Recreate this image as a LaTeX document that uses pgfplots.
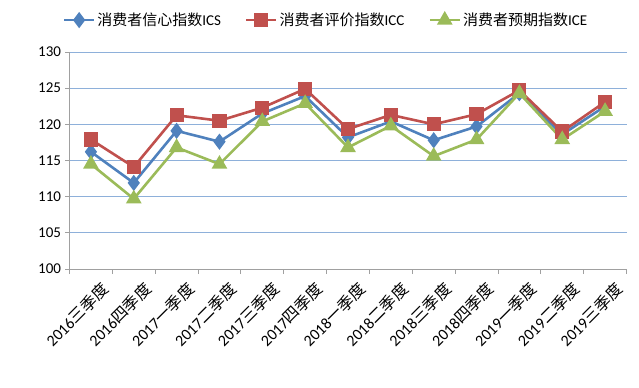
\documentclass[border=0pt]{standalone}
\usepackage{pgfplots}
\pgfplotsset{compat=1.18}
\usepackage{fontspec}
\setmainfont{Carlito}
\newfontfamily\cjk{Noto Sans CJK SC}
\definecolor{sblue}{HTML}{4F81BD}
\definecolor{sred}{HTML}{C0504D}
\definecolor{sgreen}{HTML}{9BBB59}
\definecolor{gridc}{HTML}{8EB0DA}
\definecolor{axc}{HTML}{A0A0A0}
\begin{document}
\begin{tikzpicture}
\useasboundingbox (0,0) rectangle (639bp,388bp);
\begin{axis}[
  at={(69.5bp,119bp)}, anchor=south west,
  scale only axis, width=557bp, height=217bp,
  xmin=-0.5, xmax=12.5, ymin=100, ymax=130,
  ytick={100,105,...,130},
  xtick={0,...,12},
  xticklabels={2016{\cjk 三季度},2016{\cjk 四季度},2017{\cjk 一季度},2017{\cjk 二季度},2017{\cjk 三季度},2017{\cjk 四季度},2018{\cjk 一季度},2018{\cjk 二季度},2018{\cjk 三季度},2018{\cjk 四季度},2019{\cjk 一季度},2019{\cjk 二季度},2019{\cjk 三季度}},
  minor xtick={-0.5,0.5,...,12.5},
  major x tick style={draw=none},
  tick align=outside,
  major tick length=4bp, minor tick length=5bp,
  tick style={axc, line width=0.8bp},
  ymajorgrids, grid style={gridc, line width=0.8bp},
  axis x line*=bottom, axis y line*=left,
  axis line style={axc, line width=0.8bp, -},
  /pgf/number format/assume math mode=true,
  yticklabel style={font=\fontsize{15bp}{17bp}\selectfont, xshift=-1bp},
  xticklabel style={font=\fontsize{16bp}{18bp}\selectfont, rotate=45, anchor=north east, inner sep=0bp, yshift=-12bp, xshift=1bp},
  legend columns=3,
  legend style={draw=none, fill=none, at={(0.4605,1.147)}, anchor=center, font=\fontsize{15bp}{17bp}\selectfont,
    /tikz/every even column/.append style={column sep=22bp}},
  legend cell align=left,
  every axis plot/.append style={line width=2.6bp},
  legend image code/.code={\draw[#1] (0bp,0bp) -- (30bp,0bp); \draw[#1, only marks] plot coordinates {(15bp,0bp)};},
]
\addplot[sblue, mark=diamond*, mark size=6bp, mark options={solid}] coordinates {
(0,116.2) (1,111.9) (2,119.1) (3,117.6) (4,121.5) (5,123.9) (6,118.2) (7,120.4) (8,117.8) (9,119.7) (10,124.3) (11,118.6) (12,122.5)};
\addlegendentry{{\cjk 消费者信心指数}ICS}
\addplot[sred, mark=square*, mark size=5.8bp, mark options={solid}] coordinates {
(0,117.9) (1,114.1) (2,121.25) (3,120.5) (4,122.3) (5,124.9) (6,119.35) (7,121.3) (8,120.0) (9,121.4) (10,124.7) (11,119.0) (12,123.1)};
\addlegendentry{{\cjk 消费者评价指数}ICC}
\addplot[sgreen, mark=triangle*, mark size=6.5bp, mark options={solid}] coordinates {
(0,114.5) (1,109.7) (2,116.8) (3,114.5) (4,120.4) (5,122.9) (6,116.8) (7,119.8) (8,115.6) (9,117.9) (10,124.3) (11,117.9) (12,121.8)};
\addlegendentry{{\cjk 消费者预期指数}ICE}
\end{axis}
\end{tikzpicture}
\end{document}
